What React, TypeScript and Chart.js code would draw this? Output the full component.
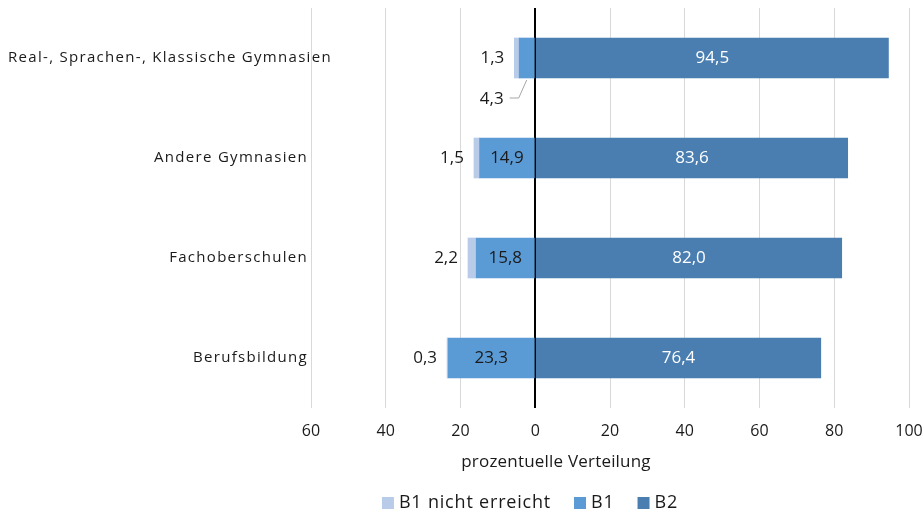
import React, { useEffect, useLayoutEffect, useRef } from 'react';
import { Chart, registerables } from 'chart.js';

Chart.register(...registerables);

const categories = [
  'Real-, Sprachen-, Klassische Gymnasien',
  'Andere Gymnasien',
  'Fachoberschulen',
  'Berufsbildung',
];
const b1NichtErreicht = [1.3, 1.5, 2.2, 0.3];
const b1 = [4.3, 14.9, 15.8, 23.3];
const b2 = [94.5, 83.6, 82.0, 76.4];
const xMin = -60;
const xMax = 100;
const xStep = 20;
const axisTitle = 'prozentuelle Verteilung';
const legendNames = ['B1 nicht erreicht', 'B1', 'B2'];

const COLORS = {
  b1n: '#B8CBE8',
  b1: '#5B9BD5',
  b2: '#4A7EB0',
};
const FONT = '"Open Sans", sans-serif';
const TEXT = '#1a1a1a';
const W = 924;
const H = 513;
const TITLE_X = 556;
const LEGEND_CX = 530;

const fmt = (v: number) => Math.abs(v).toFixed(1).replace('.', ',');

const customPlugin = {
  id: 'customDraw',
  afterDatasetsDraw(chart: any) {
    const ctx = chart.ctx;
    ctx.save();
    ctx.font = `17px ${FONT}`;
    ctx.textBaseline = 'middle';
    chart.data.datasets.forEach((ds: any, di: number) => {
      const meta = chart.getDatasetMeta(di);
      meta.data.forEach((el: any, i: number) => {
        const v = ds.data[i];
        const txt = fmt(v);
        const left = Math.min(el.x, el.base);
        const right = Math.max(el.x, el.base);
        const cx = (left + right) / 2;
        const w = ctx.measureText(txt).width;
        const bottom = el.y + el.height / 2;
        if (ds.key === 'b2') {
          ctx.fillStyle = '#ffffff';
          ctx.textAlign = 'center';
          ctx.fillText(txt, cx, el.y);
        } else if (ds.key === 'b1') {
          ctx.fillStyle = TEXT;
          if (right - left >= w + 6) {
            ctx.textAlign = 'center';
            ctx.fillText(txt, cx, el.y);
          } else {
            const ly = bottom + 20;
            ctx.strokeStyle = '#A6A6A6';
            ctx.lineWidth = 1;
            ctx.beginPath();
            ctx.moveTo(cx, bottom + 2);
            ctx.lineTo(cx - 8, ly);
            ctx.lineTo(cx - 17, ly);
            ctx.stroke();
            ctx.textAlign = 'right';
            ctx.fillText(txt, cx - 23, ly + 1);
          }
        } else {
          ctx.fillStyle = TEXT;
          ctx.textAlign = 'right';
          ctx.fillText(txt, left - 10, el.y);
        }
      });
    });
    ctx.restore();
  },
  afterDraw(chart: any) {
    const ctx = chart.ctx;
    const area = chart.chartArea;
    const yScale = chart.scales.y;
    ctx.save();
    ctx.font = `15px ${FONT}`;
    (ctx as any).letterSpacing = '1.3px';
    ctx.fillStyle = TEXT;
    ctx.textBaseline = 'middle';
    const minLeft = 8;
    categories.forEach((c, i) => {
      const y = yScale.getPixelForValue(i);
      const w = ctx.measureText(c).width;
      const rightEdge = area.left - 3;
      if (w > rightEdge - minLeft) {
        ctx.textAlign = 'left';
        ctx.fillText(c, minLeft, y);
      } else {
        ctx.textAlign = 'right';
        ctx.fillText(c, rightEdge, y);
      }
    });
    // axis title
    ctx.font = `17px ${FONT}`;
    (ctx as any).letterSpacing = '0.2px';
    ctx.textAlign = 'center';
    ctx.fillText(axisTitle, TITLE_X, area.bottom + 54);
    // legend
    const colors = [COLORS.b1n, COLORS.b1, COLORS.b2];
    const box = 12;
    const gapBoxText = 5;
    const gapItems = 23;
    ctx.font = `18px ${FONT}`;
    (ctx as any).letterSpacing = '0.8px';
    const widths = legendNames.map((n) => box + gapBoxText + ctx.measureText(n).width);
    const total = widths.reduce((a, b) => a + b, 0) + gapItems * (legendNames.length - 1);
    let lx = LEGEND_CX - total / 2;
    const ly = area.bottom + 95;
    legendNames.forEach((n, i) => {
      ctx.fillStyle = colors[i];
      ctx.fillRect(lx, ly - box / 2, box, box);
      ctx.fillStyle = TEXT;
      ctx.textAlign = 'left';
      ctx.fillText(n, lx + box + gapBoxText, ly);
      lx += widths[i] + gapItems;
    });
    ctx.restore();
  },
};

export default function App() {
  const ref = useRef<HTMLCanvasElement | null>(null);
  useLayoutEffect(() => {
    document.body.style.margin = '0';
  }, []);
  useEffect(() => {
    if (!ref.current) return;
    const chart = new Chart(ref.current, {
      type: 'bar',
      data: {
        labels: categories,
        datasets: [
          { key: 'b1', label: 'B1', data: b1.map((v) => -v), backgroundColor: COLORS.b1, barThickness: 40 } as any,
          { key: 'b1n', label: 'B1 nicht erreicht', data: b1NichtErreicht.map((v) => -v), backgroundColor: COLORS.b1n, barThickness: 40 } as any,
          { key: 'b2', label: 'B2', data: b2, backgroundColor: COLORS.b2, barThickness: 40 } as any,
        ],
      },
      options: {
        indexAxis: 'y',
        animation: false,
        responsive: true,
        maintainAspectRatio: false,
        layout: { padding: { top: 8, left: 0, right: 0, bottom: 0 } },
        plugins: {
          legend: { display: false },
          tooltip: { enabled: false },
          title: { display: false },
        },
        scales: {
          x: {
            stacked: true,
            min: xMin,
            max: xMax,
            ticks: {
              stepSize: xStep,
              callback: (v: any) => String(Math.abs(Number(v))),
              font: { family: FONT, size: 16 },
              color: TEXT,
              padding: 14,
              maxRotation: 0,
            },
            grid: {
              drawTicks: false,
              color: (c: any) => (c.tick && c.tick.value === 0 ? '#000000' : '#D9D9D9'),
              lineWidth: (c: any) => (c.tick && c.tick.value === 0 ? 2 : 1),
            },
            border: { display: false },
            afterFit: (s: any) => {
              s.height = 105;
              s.paddingRight = 15;
              s.paddingLeft = 0;
            },
          },
          y: {
            stacked: true,
            grid: { display: false },
            ticks: { display: false },
            border: { display: false },
            afterFit: (s: any) => {
              s.width = 311;
            },
          },
        },
      },
      plugins: [customPlugin],
    });
    return () => chart.destroy();
  }, []);
  return (
    <div style={{ position: 'relative', width: `${W}px`, height: `${H}px` }}>
      <canvas ref={ref} />
    </div>
  );
}
